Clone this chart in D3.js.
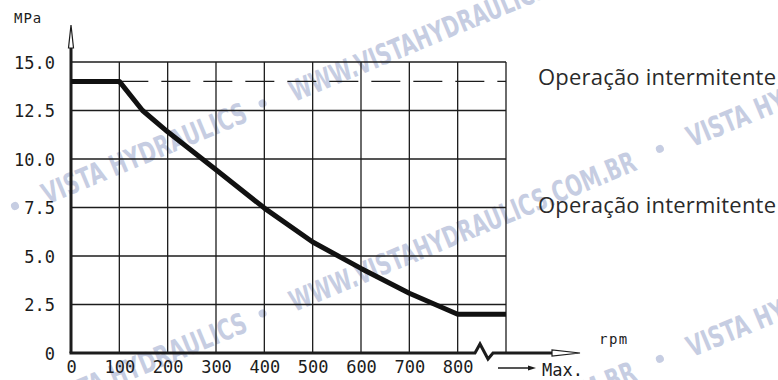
<!DOCTYPE html>
<html>
<head>
<meta charset="utf-8">
<script src="https://cdn.jsdelivr.net/npm/d3@7"></script>
<style>
  body { margin: 0; background: #fff; }
  svg { display: block; }
</style>
</head>
<body>
<div id="chart"></div>
<script>
const rpm = [0, 100, 148, 200, 300, 400, 500, 600, 700, 800, 900]
const pressure = [14, 14, 12.5, 11.4, 9.45, 7.47, 5.72, 4.36, 3.08, 2.0, 2.0]
const limitRpm = [100, 900]
const limitPressure = [14, 14]
const xTicks = [0, 100, 200, 300, 400, 500, 600, 700, 800]
const gridX = [100, 200, 300, 400, 500, 600, 700, 800, 900]
const yTicks = [0, 2.5, 5, 7.5, 10, 12.5, 15]
const noteTexts = ["Operação intermitente", "Operação intermitente"]
const noteLevels = [14.15, 7.6]
const watermarkTexts = ["VISTA HYDRAULICS", "WWW.VISTAHYDRAULICS.COM.BR"]

const width = 778
const height = 380
const mono = "'DejaVu Sans Mono', monospace"
const ink = "#1c1c1c"

const x = d3.scaleLinear().domain([0, 900]).range([71, 506])
const y = d3.scaleLinear().domain([0, 15]).range([353, 62])

const svg = d3.select("#chart").append("svg")
    .attr("width", width)
    .attr("height", height)
    .attr("viewBox", [0, 0, width, height].join(" "))

svg.append("rect").attr("width", width).attr("height", height).attr("fill", "#fff")

// watermark, repeated diagonal bands
const wm = svg.append("g")
    .attr("fill", "#c6cde2")
    .style("font-family", "'DejaVu Sans', sans-serif")
    .style("font-size", "29px")
    .style("font-weight", "bold")
const period = 698
d3.range(1, 4).forEach(k => {
    const g = wm.append("g")
        .attr("transform", `translate(15,${-4 + 210 * k}) rotate(-22.5)`)
    d3.range(-1, 2).forEach(i => {
        const p = i * period
        g.append("circle").attr("cx", p).attr("cy", 0).attr("r", 4)
        g.append("circle").attr("cx", p + 268).attr("cy", 0).attr("r", 4)
        g.append("text").attr("x", p + 30).attr("y", 11)
            .attr("textLength", 219).attr("lengthAdjust", "spacingAndGlyphs")
            .text(watermarkTexts[0])
        g.append("text").attr("x", p + 298).attr("y", 11)
            .attr("textLength", 372).attr("lengthAdjust", "spacingAndGlyphs")
            .text(watermarkTexts[1])
    })
})

// grid
const grid = svg.append("g").attr("stroke", ink).attr("stroke-width", 1.3)
grid.selectAll("line.v").data(gridX).join("line")
    .attr("class", "v")
    .attr("x1", d => x(d)).attr("x2", d => x(d))
    .attr("y1", y(0)).attr("y2", y(15))
grid.selectAll("line.h").data(yTicks.filter(d => d > 0)).join("line")
    .attr("class", "h")
    .attr("x1", x(0)).attr("x2", x(900))
    .attr("y1", d => y(d)).attr("y2", d => y(d))

// tick labels
const xAxis = g => g
    .attr("transform", `translate(0,${y(0)})`)
    .call(d3.axisBottom(x).tickValues(xTicks).tickSize(0).tickPadding(8).tickFormat(d3.format("d")))
    .call(g => g.select(".domain").remove())
    .call(g => g.selectAll("text").attr("fill", ink).style("font-family", mono).style("font-size", "17px"))

const yAxis = g => g
    .attr("transform", `translate(${x(0)},0)`)
    .call(d3.axisLeft(y).tickValues(yTicks).tickSize(0).tickPadding(16)
        .tickFormat(d => d === 0 ? "0" : d.toFixed(1)))
    .call(g => g.select(".domain").remove())
    .call(g => g.selectAll("text").attr("fill", ink).attr("dy", "0.36em")
        .style("font-family", mono).style("font-size", "17px"))

svg.append("g").call(xAxis)
svg.append("g").call(yAxis)

// axis lines with arrows and break mark
const x0 = x(0), y0 = y(0), xEnd = x(900)
svg.append("path")
    .attr("fill", "none").attr("stroke", ink).attr("stroke-width", 3)
    .attr("d", `M${x0},${y0}V${y(15) - 22}`)
svg.append("path")
    .attr("fill", "#fff").attr("stroke", ink).attr("stroke-width", 1.2)
    .attr("d", `M${x0},${y(15) - 37}L${x0 - 2.5},${y(15) - 14}L${x0 + 2.5},${y(15) - 14}Z`)
svg.append("path")
    .attr("fill", "none").attr("stroke", ink).attr("stroke-width", 3).attr("stroke-linejoin", "miter")
    .attr("d", `M${x0 - 1.5},${y0}H${xEnd - 31}L${xEnd - 26},${y0 - 9}L${xEnd - 18},${y0 + 6}L${xEnd - 13},${y0}H${xEnd + 48}`)
svg.append("path")
    .attr("fill", "#fff").attr("stroke", ink).attr("stroke-width", 1.2)
    .attr("d", `M${xEnd + 74},${y0}L${xEnd + 46},${y0 - 3}L${xEnd + 46},${y0 + 3}Z`)

svg.append("text")
    .attr("x", 14).attr("y", 23)
    .attr("fill", ink).style("font-family", mono).style("font-size", "14px").style("letter-spacing", "1px")
    .text("MPa")
svg.append("text")
    .attr("x", xEnd + 93).attr("y", y0 - 9)
    .attr("fill", ink).style("font-family", mono).style("font-size", "14px").style("letter-spacing", "1.5px")
    .text("rpm")

// Max. marker
svg.append("line")
    .attr("x1", xEnd - 8).attr("x2", xEnd + 26)
    .attr("y1", y0 + 15).attr("y2", y0 + 15)
    .attr("stroke", ink).attr("stroke-width", 1.3)
svg.append("path")
    .attr("fill", ink)
    .attr("d", `M${xEnd + 30},${y0 + 15}L${xEnd + 22},${y0 + 12.5}L${xEnd + 22},${y0 + 17.5}Z`)
svg.append("text")
    .attr("x", xEnd + 36).attr("y", y0 + 23)
    .attr("fill", ink).style("font-family", mono).style("font-size", "17px")
    .text("Max.")

// intermittent limit (dashed) and pressure curve
const line = d3.line()
    .x(d => x(d[0]))
    .y(d => y(d[1]))

svg.append("path")
    .attr("fill", "none").attr("stroke", ink).attr("stroke-width", 1.3)
    .attr("stroke-dasharray", "29,13")
    .attr("d", line(d3.zip(limitRpm, limitPressure)))

svg.append("path")
    .attr("fill", "none").attr("stroke", "#111").attr("stroke-width", 5)
    .attr("stroke-linejoin", "round")
    .attr("d", line(d3.zip(rpm, pressure)))

// notes
svg.append("g")
    .selectAll("text")
    .data(noteTexts)
    .join("text")
    .attr("x", 538)
    .attr("y", (d, i) => y(noteLevels[i]) + 7)
    .attr("fill", "#2a2a2a")
    .attr("textLength", 238)
    .attr("lengthAdjust", "spacing")
    .style("font-family", "'Open Sans', sans-serif")
    .style("font-size", "22px")
    .text(d => d)
</script>
</body>
</html>
